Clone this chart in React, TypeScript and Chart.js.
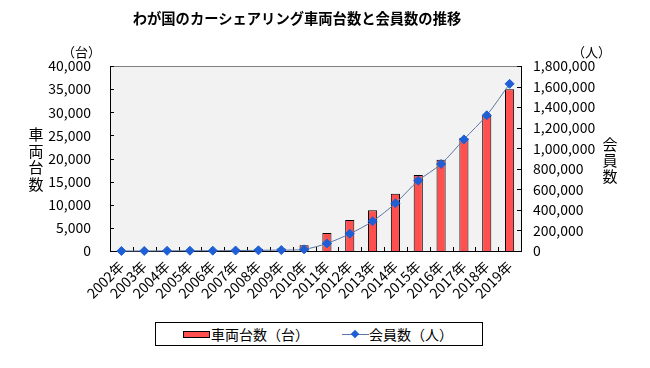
import React, { useEffect, useRef } from 'react';
import { Chart, registerables } from 'chart.js';

Chart.register(...registerables);

const years = ['2002年', '2003年', '2004年', '2005年', '2006年', '2007年', '2008年', '2009年', '2010年', '2011年', '2012年', '2013年', '2014年', '2015年', '2016年', '2017年', '2018年', '2019年'];
const vehicleCounts = [21, 42, 86, 118, 200, 300, 510, 563, 1265, 3900, 6700, 8831, 12373, 16418, 19717, 24458, 29208, 34984];
const memberCounts = [50, 500, 1712, 2500, 3245, 4500, 6396, 9000, 15894, 73898, 167745, 289497, 464160, 684286, 846240, 1085922, 1320794, 1626618];

const chartTitle = 'わが国のカーシェアリング車両台数と会員数の推移';
const leftUnit = '（台）';
const rightUnit = '（人）';
const leftAxisTitle = '車両台数';
const rightAxisTitle = '会員数';
const barLabel = '車両台数（台）';
const lineLabel = '会員数（人）';

const FONT = "'Noto Sans CJK JP', 'Noto Sans', sans-serif";
const BAR_COLOR = '#ff4f4f';
const LINE_COLOR = '#5b77a5';
const POINT_COLOR = '#1f5fd6';

const fmt = (v: any) => Number(v).toLocaleString('en-US');

const decorPlugin = {
  id: 'decor',
  beforeDraw(chart: any) {
    const { ctx, chartArea: a } = chart;
    ctx.save();
    ctx.fillStyle = '#f2f2f2';
    ctx.fillRect(a.left, a.top, a.right - a.left, a.bottom - a.top);
    ctx.restore();
  },
  beforeDatasetsDraw(chart: any) {
    const { ctx, chartArea: a, scales } = chart;
    ctx.save();
    ctx.strokeStyle = '#808080';
    ctx.lineWidth = 1;
    ctx.beginPath();
    ctx.moveTo(a.left, a.top + 0.5);
    ctx.lineTo(a.right, a.top + 0.5);
    ctx.stroke();
    ctx.strokeStyle = '#000';
    ctx.beginPath();
    scales.y.ticks.forEach((t: any) => {
      const py = Math.round(scales.y.getPixelForValue(t.value)) + 0.5;
      ctx.moveTo(a.left, py);
      ctx.lineTo(a.left + 4, py);
    });
    scales.y1.ticks.forEach((t: any) => {
      const py = Math.round(scales.y1.getPixelForValue(t.value)) + 0.5;
      ctx.moveTo(a.right - 4, py);
      ctx.lineTo(a.right, py);
    });
    for (let i = 1; i < years.length; i++) {
      const px = Math.round(scales.x.getPixelForValue(i - 0.5)) + 0.5;
      ctx.moveTo(px, a.bottom);
      ctx.lineTo(px, a.bottom - 4);
    }
    ctx.stroke();
    ctx.restore();
  },
};

export default function App() {
  const canvasRef = useRef<HTMLCanvasElement>(null);

  useEffect(() => {
    const canvas = canvasRef.current;
    if (!canvas) return;
    const chart = new Chart(canvas, {
      type: 'bar',
      data: {
        labels: years,
        datasets: [
          {
            type: 'line',
            label: lineLabel,
            data: memberCounts,
            yAxisID: 'y1',
            borderColor: LINE_COLOR,
            borderWidth: 1,
            tension: 0.3,
            pointStyle: 'rectRot',
            pointRadius: 4.5,
            pointBackgroundColor: POINT_COLOR,
            pointBorderColor: POINT_COLOR,
            pointBorderWidth: 1,
            clip: false,
            order: 0,
          } as any,
          {
            type: 'bar',
            label: barLabel,
            data: vehicleCounts,
            yAxisID: 'y',
            backgroundColor: BAR_COLOR,
            borderColor: '#000',
            borderWidth: 1,
            categoryPercentage: 1,
            barPercentage: 0.4,
            order: 1,
          } as any,
        ],
      },
      options: {
        animation: false,
        responsive: false,
        maintainAspectRatio: false,
        layout: { padding: { top: 66, left: 0, right: 0, bottom: 0 } },
        plugins: {
          legend: { display: false },
          title: { display: false },
          tooltip: { enabled: false },
        },
        scales: {
          x: {
            offset: true,
            grid: { display: false, drawTicks: false },
            border: { display: true, color: '#000', width: 1 },
            ticks: {
              autoSkip: false,
              minRotation: 45,
              maxRotation: 45,
              padding: 7,
              color: '#000',
              font: { family: FONT, size: 14 },
            },
            afterFit: (s: any) => { s.height = 117; },
          },
          y: {
            position: 'left',
            min: 0,
            max: 40000,
            grid: { display: false, drawTicks: false },
            border: { display: true, color: '#000', width: 1 },
            ticks: {
              stepSize: 5000,
              padding: 19,
              color: '#000',
              font: { family: FONT, size: 14 },
              callback: fmt,
            },
            afterFit: (s: any) => { s.width = 110; },
          },
          y1: {
            position: 'right',
            min: 0,
            max: 1800000,
            grid: { display: false, drawTicks: false },
            border: { display: true, color: '#000', width: 1 },
            ticks: {
              stepSize: 200000,
              padding: 12,
              color: '#000',
              font: { family: FONT, size: 14 },
              callback: fmt,
            },
            afterFit: (s: any) => { s.width = 129; },
          },
        },
      },
      plugins: [decorPlugin],
    });
    return () => chart.destroy();
  }, []);

  const abs = (o: any) => ({ position: 'absolute' as const, ...o });

  return (
    <div style={{ position: 'fixed', left: 0, top: 0, width: 650, height: 368, background: '#fff', fontFamily: FONT, color: '#000' }}>
      <canvas ref={canvasRef} width={650} height={368} style={{ position: 'absolute', left: 0, top: 0, width: 650, height: 368 }} />
      <div style={abs({ left: 0, width: 594, top: 8, textAlign: 'center', fontSize: 14.3, fontWeight: 'bold', lineHeight: '20px', whiteSpace: 'nowrap' })}>{chartTitle}</div>
      <div style={abs({ left: 62, top: 44, fontSize: 13, lineHeight: '16px', whiteSpace: 'nowrap' })}>{leftUnit}</div>
      <div style={abs({ left: 572, top: 44, fontSize: 13, lineHeight: '16px', whiteSpace: 'nowrap' })}>{rightUnit}</div>
      <div style={abs({ left: 27, top: 126, width: 18, textAlign: 'center', fontSize: 15, lineHeight: '16.5px' })}>
        {leftAxisTitle.split('').map((c, i) => <div key={i}>{c}</div>)}
      </div>
      <div style={abs({ left: 601, top: 136, width: 18, textAlign: 'center', fontSize: 15, lineHeight: '16px' })}>
        {rightAxisTitle.split('').map((c, i) => <div key={i}>{c}</div>)}
      </div>
      <div style={abs({ left: 155, top: 322, width: 326, height: 22, border: '1px solid #000', background: '#fff' })}>
        <div style={abs({ left: 27, top: 8, width: 25, height: 5, background: BAR_COLOR, border: '1px solid #000' })} />
        <div style={abs({ left: 55, top: 0, fontSize: 14, lineHeight: '22px', whiteSpace: 'nowrap' })}>{barLabel}</div>
        <div style={abs({ left: 186, top: 10.5, width: 27, height: 1, background: LINE_COLOR })} />
        <div style={abs({ left: 196, top: 7.5, width: 6, height: 6, background: POINT_COLOR, transform: 'rotate(45deg)' })} />
        <div style={abs({ left: 213, top: 0, fontSize: 14, lineHeight: '22px', whiteSpace: 'nowrap' })}>{lineLabel}</div>
      </div>
    </div>
  );
}
